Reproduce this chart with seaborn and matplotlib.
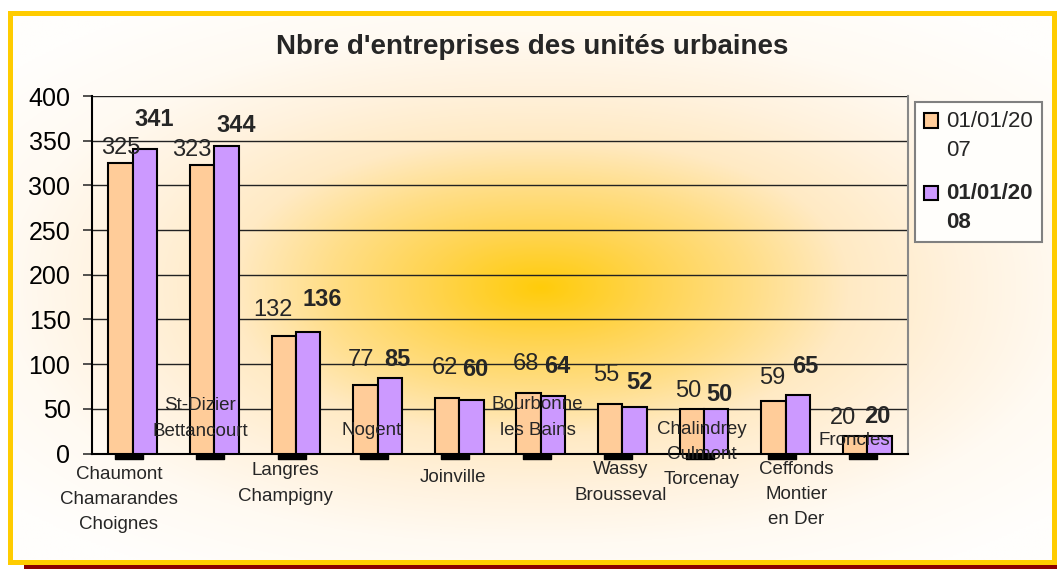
import numpy as np
import pandas as pd
import matplotlib
matplotlib.use("Agg")
import matplotlib.pyplot as plt
import seaborn as sns
from matplotlib.patches import Rectangle, Patch
from matplotlib import transforms
from matplotlib.path import Path
from matplotlib.legend_handler import HandlerPatch

# ---------------- data ----------------
categories = [
    "Chaumont\nChamarandes\nChoignes",
    "St-Dizier\nBettancourt",
    "Langres\nChampigny",
    "Nogent",
    "Joinville",
    "Bourbonne\nles Bains",
    "Wassy\nBrousseval",
    "Chalindrey\nCulmont\nTorcenay",
    "Ceffonds\nMontier\nen Der",
    "Froncles",
]
series_names = ["01/01/2007", "01/01/2008"]
legend_labels = ["01/01/20\n07", "01/01/20\n08"]
values_2007 = [325, 323, 132, 77, 62, 68, 55, 50, 59, 20]
values_2008 = [341, 344, 136, 85, 60, 64, 52, 50, 65, 20]
yticks = [0, 50, 100, 150, 200, 250, 300, 350, 400]
title = "Nbre d'entreprises des unités urbaines"

# ---------------- layout (pixels) ----------------
lbl07_dx = [0, -10, -11, -4, -2, -3, -3.5, -4, -1.5, -12]
lbl07_dy = [9, 9, 20, 19, 24, 23, 23, 12, 17, 12]
lbl08_dx = [9, 10, 14, 8, 4, 4.5, 5, 3, 7, -2]
lbl08_dy = [23, 14, 26, 12, 24, 23, 18, 8, 22, 13]
cat_dx = [-14, -14, -11, -6, -6, -3, -2, -2, 11, -13]
cat_dy = [46, -35, 30, -23, 24, -36, 29, 1, 41, -13]

ORANGE = "#FFCC99"
PURPLE = "#CC99FF"

df = pd.DataFrame({
    "cat": categories * 2,
    "date": [series_names[0]] * len(categories) + [series_names[1]] * len(categories),
    "val": values_2007 + values_2008,
})

sns.set_style("white")
plt.rcParams["font.family"] = ["Liberation Sans", "DejaVu Sans"]

W, H = 1057, 569
fig = plt.figure(figsize=(W / 100, H / 100), dpi=100)
fig.patch.set_facecolor("white")

# ---------------- background / frame ----------------
bg = fig.add_axes([0, 0, 1, 1], zorder=-10)
bg.axis("off")
bg.add_patch(Rectangle((24, 20), 1060, 560, facecolor="#8B0000", edgecolor="none", zorder=1))
xs = np.linspace(9.5, 1054, 600)
ys = np.linspace(12.5, 561.5, 320)
X, Y = np.meshgrid(xs, ys)
p = 2.2
r = (np.abs((X - 540) / 560.0) ** p + np.abs((Y - 288) / 270.0) ** p) ** (1 / p)
stops = [0.0, 0.2, 0.38, 0.55, 0.75, 0.95, 1.2]
G = np.interp(r, stops, [204, 212, 222, 234, 242, 250, 254])
B = np.interp(r, stops, [10, 80, 136, 196, 222, 242, 252])
img = np.dstack([np.ones_like(G), G / 255.0, B / 255.0])
bg.imshow(img, extent=(9.5, 1054, 561.5, 12.5), aspect="auto",
          interpolation="bilinear", zorder=2)
bg.add_patch(Rectangle((9.5, 12.5), 1044.5, 549, fill=False, edgecolor="#FFCC00",
                       lw=3.6, zorder=3))
bg.set_xlim(0, W)
bg.set_ylim(H, 0)

# ---------------- main axes ----------------
ax = fig.add_axes([92 / W, 1 - 453.5 / H, 816 / W, 357.5 / H])
ax.patch.set_alpha(0)
sns.barplot(data=df, x="cat", y="val", hue="date", palette=[ORANGE, PURPLE],
            saturation=1, width=0.6, edgecolor="black", linewidth=1.5, errorbar=None,
            legend=False, ax=ax, zorder=3)
ax.set_ylim(0, 400)
ax.set_xlim(-0.5, len(categories) - 0.5)
ax.set_yticks(yticks)
ax.yaxis.grid(True, color="#222222", lw=1.0)
ax.xaxis.grid(False)
ax.set_axisbelow(True)
ax.set_xlabel("")
ax.set_ylabel("")
ax.set_xticks(range(len(categories)))
ax.set_xticklabels([])
ax.tick_params(axis="x", length=0, bottom=False)
ax.tick_params(axis="y", left=True, direction="out", length=6.5, width=1.2,
               color="#333333", labelsize=18, pad=9, labelcolor="black")
for s in ["left", "bottom"]:
    ax.spines[s].set_color("black")
    ax.spines[s].set_linewidth(1.5)
ax.spines["right"].set_color("#888888")
ax.spines["right"].set_linewidth(1.5)
ax.spines["top"].set_visible(False)

# floor shadows under each group
verts = [(-14, -2.5), (14, -2.5), (14, 2.5), (-14, 2.5), (-14, -2.5)]
rect_marker = Path(verts, [Path.MOVETO, Path.LINETO, Path.LINETO, Path.LINETO, Path.CLOSEPOLY])
shadow_trans = transforms.offset_copy(ax.transData, fig=fig, x=-4, y=-2.5, units="dots")
ax.plot(range(len(categories)), [0] * len(categories), ls="none", marker=rect_marker,
        ms=28 * 0.72, color="black", transform=shadow_trans, clip_on=False, zorder=2.5)

# value labels
c07, c08 = ax.containers[0], ax.containers[1]
for i, bar in enumerate(c07):
    x = bar.get_x() + bar.get_width() / 2
    ax.annotate(str(values_2007[i]), xy=(x, bar.get_height()), xytext=(lbl07_dx[i], lbl07_dy[i]),
                textcoords="offset pixels", ha="center", va="baseline", fontsize=17,
                annotation_clip=False, zorder=5)
for i, bar in enumerate(c08):
    x = bar.get_x() + bar.get_width() / 2
    ax.annotate(str(values_2008[i]), xy=(x, bar.get_height()), xytext=(lbl08_dx[i], lbl08_dy[i]),
                textcoords="offset pixels", ha="center", va="baseline", fontsize=17,
                fontweight="bold", annotation_clip=False, zorder=5)

# category labels (staggered like the original)
for i, lab in enumerate(categories):
    ax.annotate(lab, xy=(i, 0), xycoords=ax.get_xaxis_transform(),
                xytext=(cat_dx[i], -cat_dy[i]), textcoords="offset pixels",
                ha="center", va="center", multialignment="center", fontsize=13.5,
                linespacing=1.65, annotation_clip=False, zorder=6)

# title
fig.text(532 / W, 1 - 47.5 / H, title, ha="center", va="center", fontsize=20, fontweight="bold")

# legend
def top_patch(legend, orig_handle, xdescent, ydescent, width, height, fontsize):
    return Rectangle((-xdescent, -ydescent + 11.0), width, height)

handles = [Patch(facecolor=ORANGE, edgecolor="black", lw=1.5),
           Patch(facecolor=PURPLE, edgecolor="black", lw=1.5)]
leg = fig.legend(handles, legend_labels, loc="upper left", bbox_to_anchor=(915 / W, 1 - 102 / H),
                 borderaxespad=0, fontsize=16, frameon=True, fancybox=False,
                 edgecolor="#808080", facecolor="#FFFEFB", framealpha=1,
                 handlelength=0.65, handleheight=0.65, handletextpad=0.35,
                 borderpad=0.4, labelspacing=1.0,
                 handler_map={Patch: HandlerPatch(patch_func=top_patch)})
leg.get_frame().set_linewidth(1.5)
for t in leg.get_texts():
    t.set_linespacing(1.5)
leg.get_texts()[1].set_fontweight("bold")

fig.savefig("out.png", dpi=100)
